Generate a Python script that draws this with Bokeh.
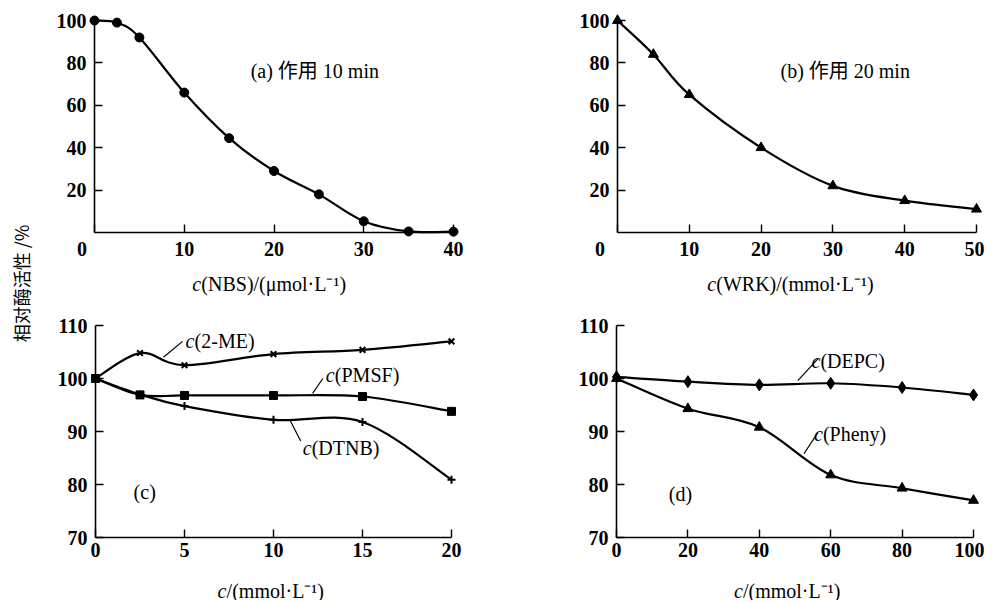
import math
from bokeh.plotting import figure
from bokeh.layouts import row, column
from bokeh.models import Label, Range1d, FixedTicker
from bokeh.embed import file_html
from bokeh.resources import INLINE

# ---------------- data ----------------
a_x = [0, 2.5, 5, 10, 15, 20, 25, 30, 35, 40]
a_y = [100, 99, 92, 66, 44.5, 29, 18, 5.3, 0.5, 0.4]

b_x = [0, 5, 10, 20, 30, 40, 50]
b_y = [100, 84, 65, 40, 22, 15, 11]

c_x = [0, 2.5, 5, 10, 15, 20]
c_2me = [100, 104.8, 102.5, 104.6, 105.4, 107.0]
c_pmsf = [100, 96.9, 96.8, 96.8, 96.6, 93.8]
c_dtnb = [100, 97.0, 94.8, 92.2, 91.8, 80.9]

d_x = [0, 20, 40, 60, 80, 100]
d_depc = [100.3, 99.4, 98.8, 99.1, 98.3, 96.9]
d_pheny = [100, 94.3, 90.8, 81.8, 79.3, 77.0]

a_xticks = [0, 10, 20, 30, 40]
a_yticks = [20, 40, 60, 80, 100]
b_xticks = [0, 10, 20, 30, 40, 50]
b_yticks = [20, 40, 60, 80, 100]
c_xticks = [0, 5, 10, 15, 20]
c_yticks = [70, 80, 90, 100, 110]
d_xticks = [0, 20, 40, 60, 80, 100]
d_yticks = [70, 80, 90, 100, 110]

SERIF = "Liberation Serif"
MIX = "Liberation Serif, Noto Sans CJK SC"
CJK = "Noto Sans CJK SC"
NB = "\u00a0"
LBL = "20px"


def bezier_parts(xs, ys):
    """Catmull-Rom control points, so the library draws a smooth curve through the data."""
    n = len(xs)
    out = {k: [] for k in ("x0", "y0", "x1", "y1", "cx0", "cy0", "cx1", "cy1")}
    for i in range(n - 1):
        im = i - 1 if i > 0 else i
        ip = i + 2 if i + 2 < n else i + 1
        out["x0"].append(xs[i]); out["y0"].append(ys[i])
        out["x1"].append(xs[i + 1]); out["y1"].append(ys[i + 1])
        out["cx0"].append(xs[i] + (xs[i + 1] - xs[im]) / 6.0)
        out["cy0"].append(ys[i] + (ys[i + 1] - ys[im]) / 6.0)
        out["cx1"].append(xs[i + 1] - (xs[ip] - xs[i]) / 6.0)
        out["cy1"].append(ys[i + 1] - (ys[ip] - ys[i]) / 6.0)
    return out


def make_fig(w, h, xr, yr, bl, br, bt, bb, axes=True):
    kw = {}
    if not axes:
        kw = dict(x_axis_location=None, y_axis_location=None)
    p = figure(width=w, height=h, x_range=xr, y_range=yr,
               toolbar_location=None, output_backend="svg", title=None,
               min_border_left=bl, min_border_right=br, min_border_top=bt, min_border_bottom=bb, **kw)
    p.xgrid.visible = False
    p.ygrid.visible = False
    p.outline_line_color = None
    p.background_fill_color = "white"
    p.border_fill_color = "white"
    return p


def style(p, xt, yt, zero_pad=None):
    p.xaxis.ticker = FixedTicker(ticks=xt)
    p.yaxis.ticker = FixedTicker(ticks=yt)
    for ax in (p.xaxis[0], p.yaxis[0]):
        ax.major_tick_in = 8
        ax.major_tick_out = 0
        ax.minor_tick_line_color = None
        ax.axis_line_width = 1.6
        ax.axis_line_color = "black"
        ax.major_tick_line_width = 1.4
        ax.major_tick_line_color = "black"
        ax.major_label_text_font = SERIF
        ax.major_label_text_font_style = "bold"
        ax.major_label_text_font_size = "20px"
        ax.major_label_text_color = "black"
    p.xaxis.major_label_standoff = 5
    p.yaxis.major_label_standoff = 8
    if zero_pad is not None:
        # the shared origin "0" sits left of the corner, as in the reference
        p.xaxis.major_label_overrides = {0: "0" + NB * zero_pad}


def curve(p, xs, ys, marker, size, lw=1.0):
    bz = bezier_parts(xs, ys)
    p.bezier(line_color="black", line_width=2.2, line_cap="round", level="overlay", **bz)
    p.scatter(xs, ys, marker=marker, size=size, fill_color="black", line_color="black",
              line_width=lw, level="overlay")


def lab(p, x, y, text, xo=0, italic=False, size=LBL, font=SERIF, align="left"):
    p.add_layout(Label(x=x, y=y, x_offset=xo, text=text, text_font=font,
                       text_font_size=size, text_font_style="italic" if italic else "normal",
                       text_align=align, text_baseline="middle", text_color="black"))


def ctitle(p, x, y, rest):
    lab(p, x, y, "c", italic=True)
    lab(p, x, y, rest, xo=9)


def leader(p, seg):
    p.segment(x0=[seg[0]], y0=[seg[1]], x1=[seg[2]], y1=[seg[3]], line_color="black",
              line_width=1.2, level="overlay")


# ---------------- panel (a) ----------------
ra = Range1d(0, 40)
pa = make_fig(480, 266, ra, Range1d(0, 100), 54, 67, 19, 33)
style(pa, a_xticks, a_yticks, zero_pad=5)
curve(pa, a_x, a_y, "circle", 9)
lab(pa, 17.4, 76.2, "(a) 作用 10 min", font=MIX)
ta = make_fig(480, 34, ra, Range1d(0, 34), 54, 67, 0, 0, axes=False)
ctitle(ta, 10.9, 17, "(NBS)/(μmol·L⁻¹)")

# ---------------- panel (b) ----------------
rb = Range1d(0, 50)
pb = make_fig(464, 266, rb, Range1d(0, 100), 97, 8, 20, 34)
style(pb, b_xticks, b_yticks, zero_pad=7)
curve(pb, b_x, b_y, "triangle", 10)
lab(pb, 22.7, 76.3, "(b) 作用 20 min", font=MIX)
tb = make_fig(464, 34, rb, Range1d(0, 34), 97, 8, 0, 0, axes=False)
ctitle(tb, 12.5, 17, "(WRK)/(mmol·L⁻¹)")

# ---------------- panel (c) ----------------
rc = Range1d(0, 20)
pc = make_fig(480, 266, rc, Range1d(70, 110), 55, 69, 25, 29)
style(pc, c_xticks, c_yticks)
curve(pc, c_x, c_2me, "x", 8, lw=2)
curve(pc, c_x, c_pmsf, "square", 8)
curve(pc, c_x, c_dtnb, "cross", 8, lw=2)
leader(pc, (3.82, 104.0, 4.89, 107.0))
leader(pc, (12.2, 97.2, 12.77, 100.0))
leader(pc, (10.9, 92.3, 11.53, 88.2))
ctitle(pc, 5.06, 107.0, "(2-ME)")
ctitle(pc, 12.94, 100.6, "(PMSF)")
ctitle(pc, 11.64, 86.9, "(DTNB)")
lab(pc, 2.14, 78.6, "(c)")
tc = make_fig(480, 34, rc, Range1d(0, 34), 55, 69, 0, 0, axes=False)
ctitle(tc, 6.86, 10, "/(mmol·L⁻¹)")

# ---------------- panel (d) ----------------
rd = Range1d(0, 100)
pd_ = make_fig(464, 266, rd, Range1d(70, 110), 96, 11, 25, 29)
style(pd_, d_xticks, d_yticks)
curve(pd_, d_x, d_depc, "diamond", 12)
curve(pd_, d_x, d_pheny, "triangle", 10)
leader(pd_, (50.8, 99.6, 56.4, 103.7))
leader(pd_, (52.5, 85.8, 56.4, 89.8))
ctitle(pd_, 54.6, 103.3, "(DEPC)")
ctitle(pd_, 55.3, 89.6, "(Pheny)")
lab(pd_, 14.65, 78.3, "(d)")
td = make_fig(464, 34, rd, Range1d(0, 34), 96, 11, 0, 0, axes=False)
ctitle(td, 32.9, 10, "/(mmol·L⁻¹)")

# ---------------- shared y label ----------------
pl = make_fig(40, 600, Range1d(0, 40), Range1d(0, 600), 0, 0, 0, 0, axes=False)
pl.add_layout(Label(x=20, y=317, text="相对酶活性 /%", angle=math.pi / 2, text_font=CJK,
                    text_font_size="18px", text_align="center", text_baseline="middle",
                    text_color="black"))

layout = row(pl, column(row(pa, pb), row(ta, tb), row(pc, pd_), row(tc, td)))
open("out.html", "w").write(file_html(layout, INLINE))
